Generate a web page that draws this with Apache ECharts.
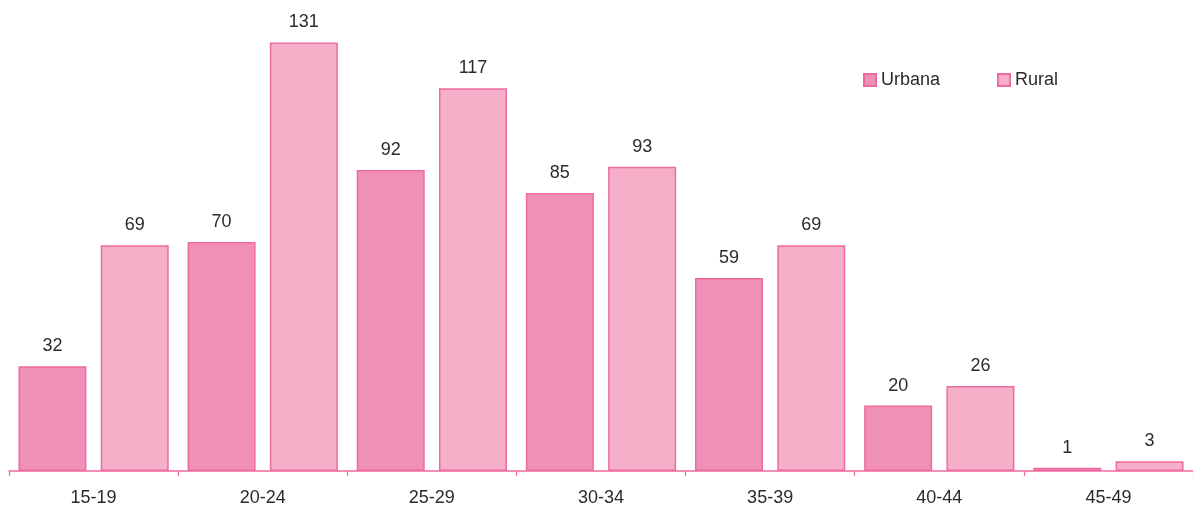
<!DOCTYPE html>
<html>
<head>
<meta charset="utf-8">
<script src="https://cdn.jsdelivr.net/npm/echarts@6/dist/echarts.min.js"></script>
<style>
  html, body { margin: 0; padding: 0; background: #fff; }
  #chart { width: 1193px; height: 507px; }
</style>
</head>
<body>
<div id="chart"></div>
<script>
const ageGroups = ['15-19', '20-24', '25-29', '30-34', '35-39', '40-44', '45-49'];
const urbana = [32, 70, 92, 85, 59, 20, 1];
const rural = [69, 131, 117, 93, 69, 26, 3];

const pinkLine = '#EF6A9F';
const textFont = '"Liberation Sans", Arial, sans-serif';

const myChart = echarts.init(document.getElementById('chart'));

const barLabel = {
  show: true,
  position: 'top',
  distance: 11,
  color: '#2b2b2b',
  fontSize: 18,
  fontFamily: textFont
};

const option = {
  animation: false,
  legend: {
    left: 863,
    top: 71,
    padding: 0,
    itemWidth: 12,
    itemHeight: 12,
    itemGap: 57,
    icon: 'rect',
    textStyle: { color: '#2b2b2b', fontSize: 18, fontFamily: textFont }
  },
  grid: {
    left: 9,
    width: 1187,
    top: 13,
    bottom: 36,
    containLabel: false
  },
  xAxis: {
    type: 'category',
    data: ageGroups,
    axisLine: { lineStyle: { color: pinkLine, width: 1.5 } },
    axisTick: { show: true, length: 5, lineStyle: { color: pinkLine, width: 1.2 } },
    axisLabel: { color: '#2b2b2b', fontSize: 18, fontFamily: textFont, margin: 18 }
  },
  yAxis: {
    type: 'value',
    min: 0,
    max: 140,
    show: false,
    splitLine: { show: false }
  },
  series: [
    {
      name: 'Urbana',
      type: 'bar',
      data: urbana,
      barWidth: 68,
      barGap: '21%',
      itemStyle: { color: '#F190B7', borderColor: pinkLine, borderWidth: 1.5 },
      label: barLabel
    },
    {
      name: 'Rural',
      type: 'bar',
      data: rural,
      barWidth: 68,
      itemStyle: { color: '#F5AFC9', borderColor: pinkLine, borderWidth: 1.5 },
      label: barLabel
    }
  ]
};

myChart.setOption(option);
</script>
</body>
</html>
